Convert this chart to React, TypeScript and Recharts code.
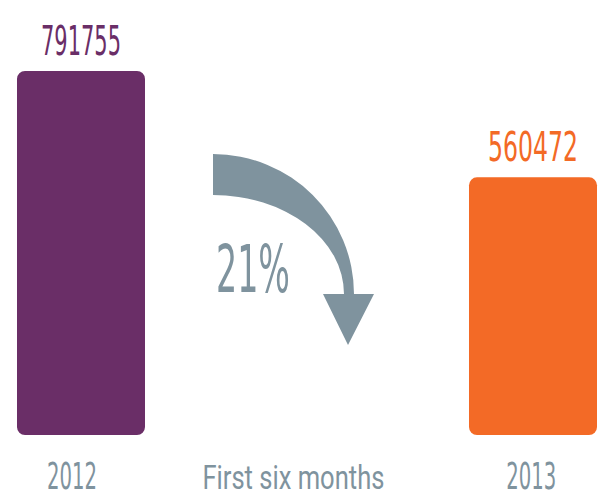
import React from 'react';
import { BarChart, Bar, XAxis, YAxis, Cell, LabelList, Customized } from 'recharts';

const years = ['2012', '2013'];
const positions = [0, 1];
const totals = [791755, 560472];
const barColors = ['#6a2e67', '#f36a26'];
const tickValues = [-0.02, 0.47, 0.996];
const tickLabels = ['2012', 'First six months', '2013'];
const changeLabel = '21%';

const data = years.map((year, i) => ({ year, pos: positions[i], total: totals[i] }));

const GRAY = '#7f939e';
const NARROW = "'Liberation Sans Narrow', 'DejaVu Sans Condensed', sans-serif";

const ValueLabel = (props: any) => {
  const { x, y, width, value, index } = props;
  const len = String(value).includes('1') ? 80 : 90;
  return (
    <text
      x={x + width / 2}
      y={y - 16}
      textAnchor="middle"
      fill={barColors[index]}
      fontFamily={NARROW}
      fontSize={40}
      textLength={len}
      lengthAdjust="spacingAndGlyphs"
    >
      {value}
    </text>
  );
};

const BottomTick = (props: any) => {
  const { x, y, payload, index } = props;
  const label = tickLabels[index] ?? String(payload.value);
  const isYear = label.length === 4;
  return (
    <text
      x={x}
      y={y + 46}
      textAnchor="middle"
      fill={GRAY}
      fontFamily={isYear ? NARROW : 'Roboto, sans-serif'}
      fontSize={isYear ? 38 : 33}
      textLength={isYear ? 50 : 182}
      lengthAdjust="spacingAndGlyphs"
    >
      {label}
    </text>
  );
};

const DropArrow = () => (
  <g>
    <path
      d="M213,154 A141 140 0 0 1 354 294 L374 294 L348 345 L323 294 L344 294 A131 99 0 0 0 213 195 Z"
      fill={GRAY}
    />
    <text
      x={253}
      y={292}
      textAnchor="middle"
      fill={GRAY}
      fontFamily={NARROW}
      fontSize={66}
      textLength={74}
      lengthAdjust="spacingAndGlyphs"
    >
      {changeLabel}
    </text>
  </g>
);

export default function App() {
  return (
    <div style={{ position: 'fixed', left: 0, top: 0, width: 605, height: 496, background: '#fff' }}>
      <BarChart width={605} height={496} data={data} margin={{ top: 71, right: 0, bottom: 0, left: 0 }}>
        <XAxis
          dataKey="pos"
          type="number"
          domain={[-0.1792, 1.1593]}
          ticks={tickValues}
          tick={<BottomTick />}
          axisLine={false}
          tickLine={false}
          height={61}
          interval={0}
          allowDataOverflow
        />
        <YAxis hide domain={[0, 791755]} />
        <Bar dataKey="total" barSize={128} radius={8} isAnimationActive={false}>
          {data.map((d, i) => (
            <Cell key={d.year} fill={barColors[i]} />
          ))}
          <LabelList dataKey="total" content={<ValueLabel />} />
        </Bar>
        <Customized component={DropArrow} />
      </BarChart>
    </div>
  );
}
